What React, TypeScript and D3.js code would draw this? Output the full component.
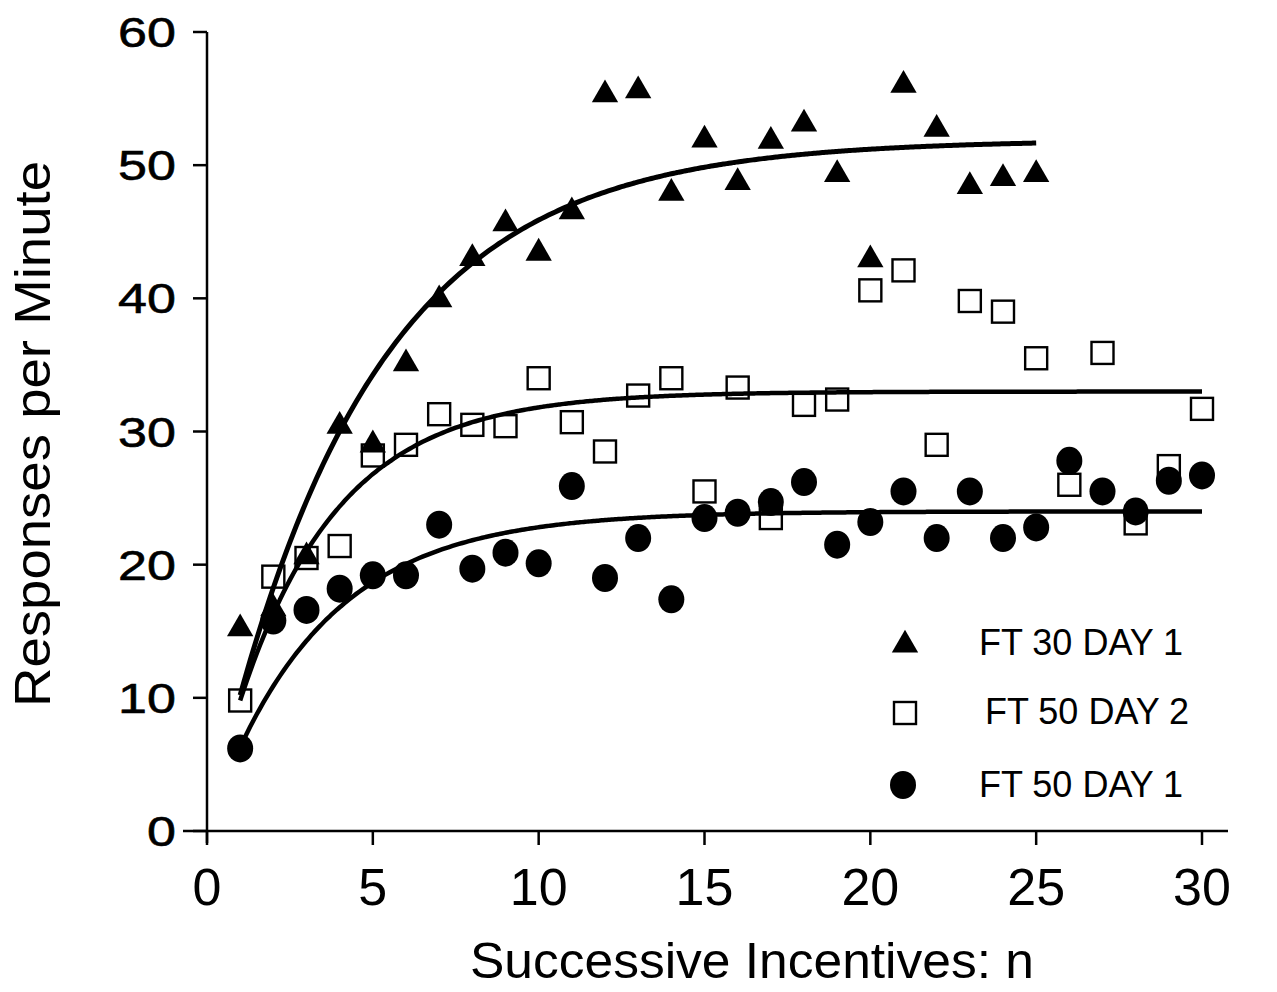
import React from "react";
import * as d3 from "d3";

const W = 1277;
const H = 992;

const ftTicks = [0, 5, 10, 15, 20, 25, 30];
const yTicks = [0, 10, 20, 30, 40, 50, 60];

const n30d1 = [1,2,3,4,5,6,7,8,9,10,11,12,13,14,15,16,17,18,19,20,21,22,23,24,25];
const ft30day1 = [15.2,16.7,20.6,30.4,29.0,35.1,39.9,43.0,45.6,43.4,46.5,55.3,55.6,47.9,51.9,48.7,51.8,53.1,49.3,42.9,56.0,52.7,48.4,49.0,49.3];

const n50d2 = [1,2,3,4,5,6,7,8,9,10,11,12,13,14,15,16,17,18,19,20,21,22,23,24,25,26,27,28,29,30];
const ft50day2 = [9.8,19.1,20.5,21.4,28.2,29.0,31.3,30.5,30.4,34.0,30.7,28.5,32.7,34.0,25.5,33.3,23.5,32.0,32.4,40.6,42.1,29.0,39.8,39.0,35.5,26.0,35.9,23.1,27.4,31.7];

const n50d1 = [1,2,3,4,5,6,7,8,9,10,11,12,13,14,15,16,17,18,19,20,21,22,23,24,25,26,27,28,29,30];
const ft50day1 = [6.2,15.8,16.6,18.2,19.2,19.2,23.0,19.7,20.9,20.1,25.9,19.0,22.0,17.4,23.5,23.9,24.7,26.2,21.5,23.2,25.5,22.0,25.5,22.0,22.8,27.8,25.5,24.0,26.3,26.7];

// fitted curve parameters: asymptote, start value at n=1, rate, last n
const fitFT30D1 = { A: 51.9, y0: 10.2, k: 0.215, nEnd: 25 };
const fitFT50D2 = { A: 33.0, y0: 9.8, k: 0.33, nEnd: 30 };
const fitFT50D1 = { A: 24.0, y0: 6.3, k: 0.3, nEnd: 30 };

const legendLabels = ["FT 30 DAY 1", "FT 50 DAY 2", "FT 50 DAY 1"];

const FONT = "'Liberation Sans', Arial, Helvetica, sans-serif";

export default function App() {
  const x = d3.scaleLinear().domain([0, 30]).range([207, 1202]);
  const y = d3.scaleLinear().domain([0, 60]).range([831, 32]);

  const fitPath = (p: { A: number; y0: number; k: number; nEnd: number }) => {
    const pts = d3.range(1, p.nEnd + 0.001, 0.1).map((n) => [n, p.A - (p.A - p.y0) * Math.exp(-p.k * (n - 1))]);
    return d3
      .line<number[]>()
      .x((d) => x(d[0]))
      .y((d) => y(d[1]))
      .curve(d3.curveBasis)(pts) as string;
  };

  const tri = d3.symbol().type(d3.symbolTriangle).size(300)() as string;
  const sq = 22;
  const cr = 13;

  return (
    <svg width={W} height={H} style={{ display: "block", position: "absolute", left: 0, top: 0 }}>
      <rect width={W} height={H} fill="#fff" />
      {/* axes */}
      <line x1={x(0)} x2={x(0)} y1={y(60)} y2={y(0) + 12} stroke="#000" strokeWidth={2.5} />
      <line x1={x(0) - 24} x2={1228} y1={y(0)} y2={y(0)} stroke="#000" strokeWidth={2.5} />
      {yTicks.map((t) => (
        <g key={"y" + t}>
          <line x1={x(0) - 14} x2={x(0)} y1={y(t)} y2={y(t)} stroke="#000" strokeWidth={2.5} />
          <text
            transform={`translate(176,${y(t) + 15}) scale(1.24,1)`}
            textAnchor="end"
            fontFamily={FONT}
            fontSize={42}
            stroke="#000"
            strokeWidth={0.6}
          >
            {t}
          </text>
        </g>
      ))}
      {ftTicks.map((t) => (
        <g key={"x" + t}>
          <line x1={x(t)} x2={x(t)} y1={y(0)} y2={y(0) + 14} stroke="#000" strokeWidth={2.5} />
          <text x={x(t)} y={905} textAnchor="middle" fontFamily={FONT} fontSize={52}>
            {t}
          </text>
        </g>
      ))}
      <text
        transform={`translate(50,434) rotate(-90)`}
        textAnchor="middle"
        fontFamily={FONT}
        fontSize={50}
        textLength={546}
        lengthAdjust="spacingAndGlyphs"
      >
        Responses per Minute
      </text>
      <text
        x={752}
        y={978}
        textAnchor="middle"
        fontFamily={FONT}
        fontSize={50}
        textLength={564}
        lengthAdjust="spacingAndGlyphs"
      >
        Successive Incentives: n
      </text>

      {/* fitted curves */}
      <path d={fitPath(fitFT30D1)} fill="none" stroke="#000" strokeWidth={5} />
      <path d={fitPath(fitFT50D2)} fill="none" stroke="#000" strokeWidth={4.5} />
      <path d={fitPath(fitFT50D1)} fill="none" stroke="#000" strokeWidth={4.5} />

      {/* data */}
      {n50d2.map((n, i) => (
        <rect
          key={"s" + n}
          x={x(n) - sq / 2}
          y={y(ft50day2[i]) - sq / 2}
          width={sq}
          height={sq}
          fill="none"
          stroke="#000"
          strokeWidth={2.4}
        />
      ))}
      {n30d1.map((n, i) => (
        <path key={"t" + n} d={tri} transform={`translate(${x(n)},${y(ft30day1[i])})`} fill="#000" />
      ))}
      {n50d1.map((n, i) => (
        <ellipse key={"c" + n} cx={x(n)} cy={y(ft50day1[i])} rx={cr} ry={cr + 1} fill="#000" />
      ))}

      {/* legend */}
      <path d={tri} transform="translate(905,645)" fill="#000" />
      <rect x={905 - sq / 2} y={713 - sq / 2} width={sq} height={sq} fill="none" stroke="#000" strokeWidth={2.4} />
      <ellipse cx={903} cy={785} rx={cr} ry={cr + 1} fill="#000" />
      <text x={979} y={655} fontFamily={FONT} fontSize={36}>{legendLabels[0]}</text>
      <text x={985} y={724} fontFamily={FONT} fontSize={36}>{legendLabels[1]}</text>
      <text x={979} y={797} fontFamily={FONT} fontSize={36}>{legendLabels[2]}</text>
    </svg>
  );
}
